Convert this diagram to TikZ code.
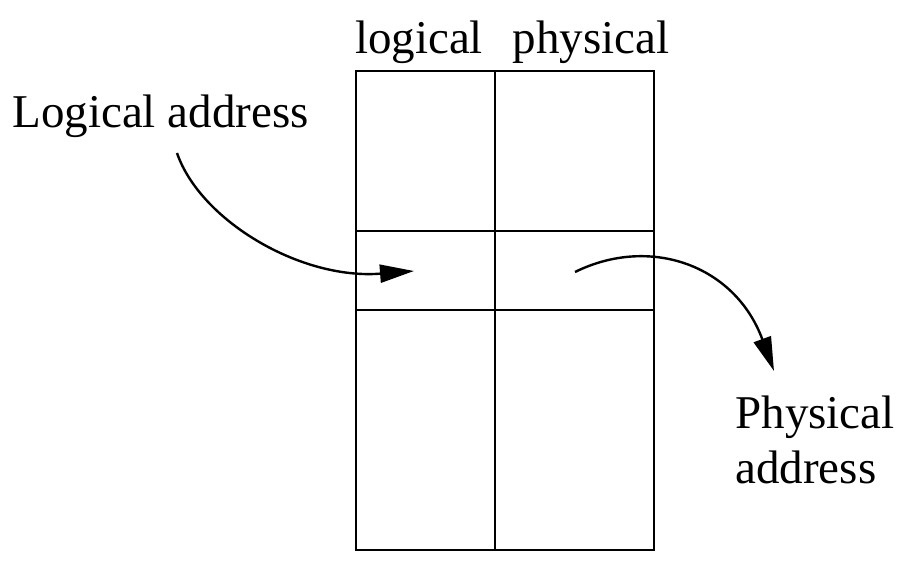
\documentclass[tikz,border=0pt]{standalone}
\usepackage{fontspec}
\setmainfont{Liberation Serif}
\usetikzlibrary{arrows.meta}
\begin{document}
\begin{tikzpicture}[x=0.5pt,y=-0.5pt,
  lbl/.style={inner sep=0pt,font=\fontsize{23.5}{27.5}\selectfont},
  grid/.style={line width=1.3pt},
  arr/.style={line width=1.2pt,-{Triangle[length=17pt,width=9pt]}}]
\useasboundingbox (0,0) rectangle (922,574);
% table
\coordinate (tl) at (356,71);
\coordinate (br) at (654,550);
\draw[grid] (tl) rectangle (br);
\draw[grid] (495,71) -- (495,550);
\draw[grid] (356,231) -- (654,231);
\draw[grid] (356,310) -- (654,310);
% headers
\node[lbl,anchor=base] (hlog) at (419,53) {logical};
\node[lbl,anchor=base] (hphys) at (591,53) {physical};
% labels
\node[lbl,anchor=base west] (la) at (12,127) {Logical address};
\node[lbl,anchor=base west] (pa1) at (735,428) {Physical};
\node[lbl,anchor=base west] (pa2) at (735,483) {address};
% arrows
\coordinate (a1s) at (177,153);
\coordinate (a1e) at (414,271);
\coordinate (a2s) at (575,272);
\coordinate (a2e) at (774,371);
\draw[arr] (a1s) .. controls (200,220) and (300,280) .. (a1e);
\draw[arr] (a2s) .. controls (650,235) and (735,265) .. (a2e);
\end{tikzpicture}
\end{document}
